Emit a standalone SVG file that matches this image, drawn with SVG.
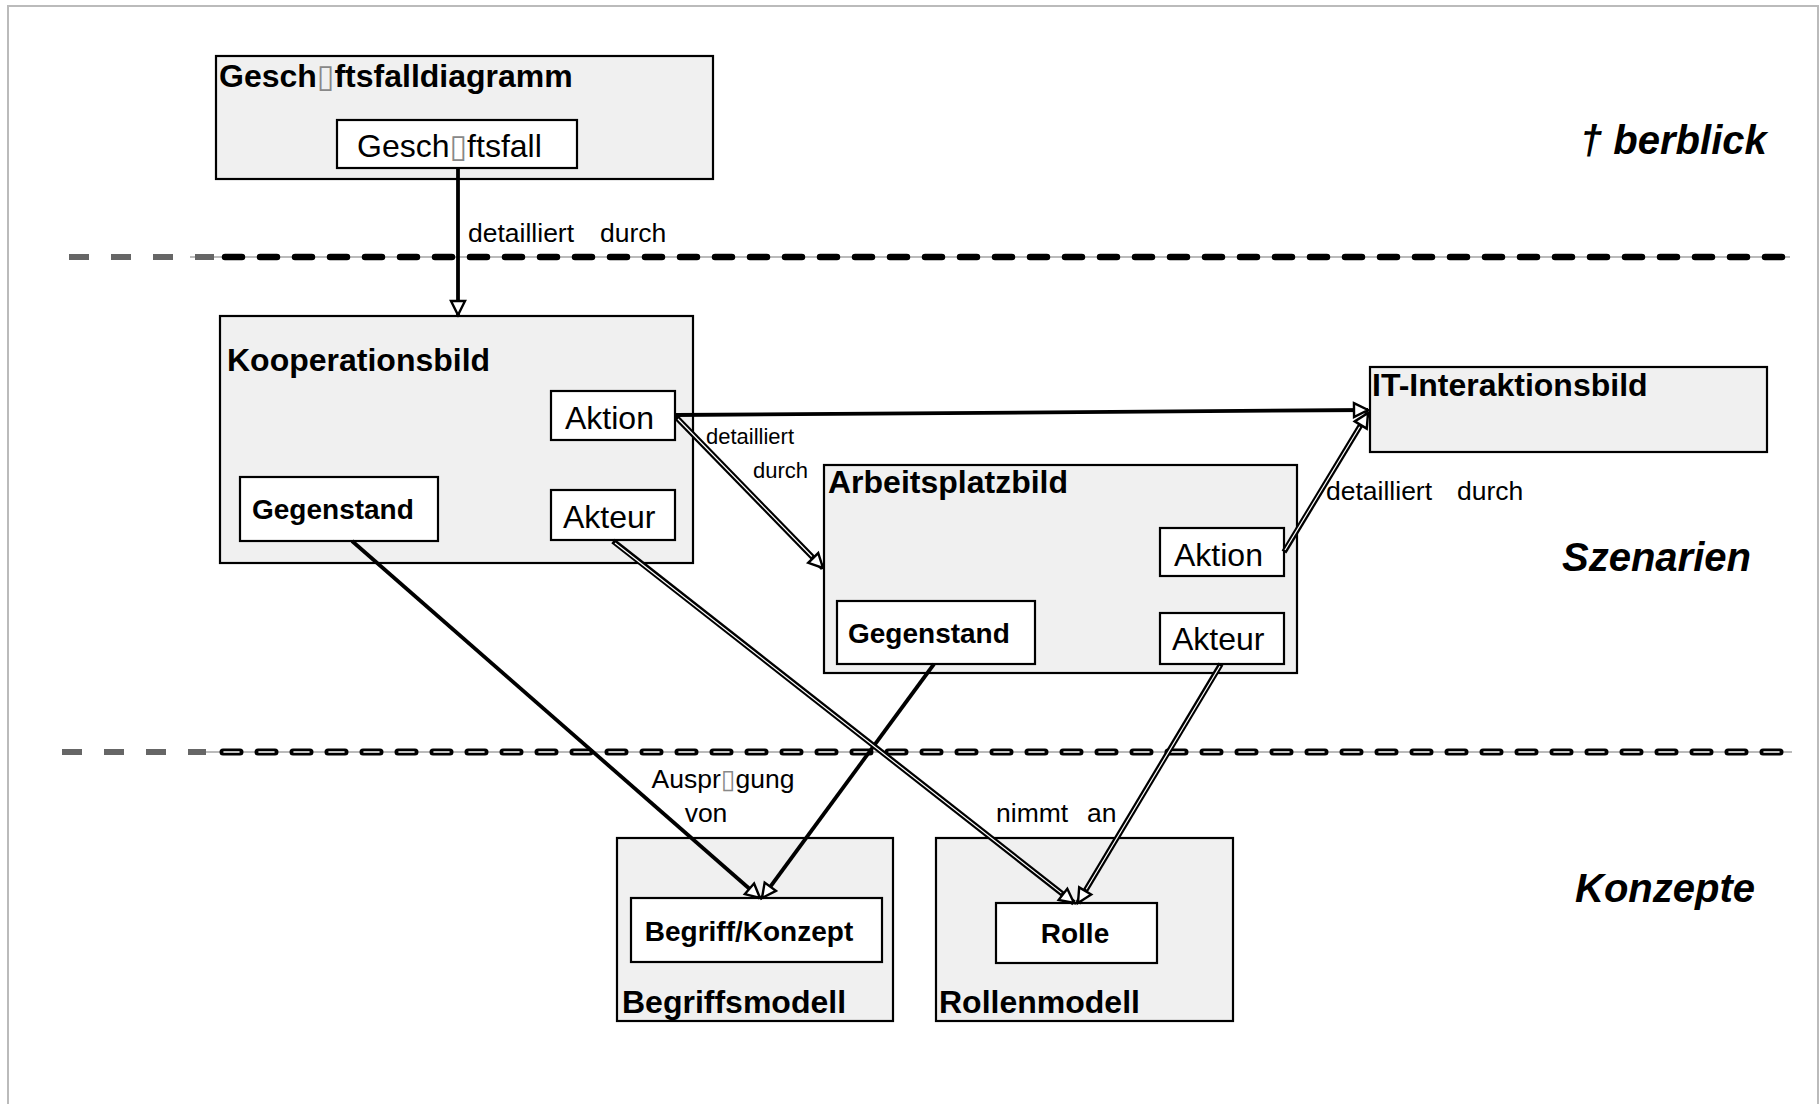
<svg xmlns="http://www.w3.org/2000/svg" width="1820" height="1104" viewBox="0 0 1820 1104">
  <style>
    .frame { fill: #ffffff; stroke: #bbbbbb; stroke-width: 2; }
    .outer { fill: #f0f0f0; stroke: #000000; stroke-width: 2.2; }
    .inner { fill: #ffffff; stroke: #000000; stroke-width: 2.2; }
    text { font-family: "Liberation Sans", Arial, "DejaVu Sans", sans-serif; fill: #000000; }
    .title { font-size: 32px; font-weight: bold; }
    .lbl { font-size: 32px; }
    .lblb { font-size: 28px; font-weight: bold; }
    .edge { font-size: 26.5px; }
    .edge-s { font-size: 22px; }
    .layer { font-size: 40px; font-weight: bold; font-style: italic; }
    .tofu { fill: #888888; font-family: "DejaVu Sans", sans-serif; font-weight: normal; }
    .sep-base { stroke: #bbbbbb; stroke-width: 2; fill: none; }
    .sep-grey { stroke: #666666; stroke-width: 6; stroke-dasharray: 20 22; fill: none; }
    .sep-solid { stroke: #000000; stroke-width: 6.5; stroke-linecap: round; stroke-dasharray: 17 18; fill: none; }
    .sep-hollow { stroke: #000000; stroke-width: 7; stroke-linecap: round; stroke-dasharray: 17 18; fill: none; }
    .sep-hollow-in { stroke: #ffffff; stroke-width: 1.6; stroke-linecap: round; stroke-dasharray: 15 20; stroke-dashoffset: -1; fill: none; }
    .solid { stroke: #000000; stroke-width: 3.8; fill: none; }
    .dbl { stroke: #000000; stroke-width: 5.5; fill: none; }
    .dbl-in { stroke: #ffffff; stroke-width: 1.2; fill: none; }
  </style>
  <defs>
    <marker id="head" markerUnits="userSpaceOnUse" markerWidth="20" markerHeight="20" refX="16" refY="9" orient="auto" overflow="visible">
      <path d="M2,2 L16,9 L2,16 Z" fill="#ffffff" stroke="#000000" stroke-width="2.4" stroke-linejoin="miter"/>
    </marker>
  </defs>

  <!-- page frame -->
  <rect class="frame" x="8" y="6" width="1810" height="1120"/>

  <!-- layer separators -->
  <g id="separators">
    <line class="sep-base" x1="190" y1="257" x2="1790" y2="257"/>
    <line class="sep-grey" x1="69" y1="257" x2="214" y2="257"/>
    <line class="sep-solid" x1="225" y1="257" x2="1786" y2="257"/>
    <line class="sep-base" x1="190" y1="752" x2="1792" y2="752"/>
    <line class="sep-grey" x1="62" y1="752" x2="206" y2="752"/>
    <line class="sep-hollow" x1="223" y1="752" x2="1788" y2="752"/>
    <line class="sep-hollow-in" x1="223" y1="752" x2="1788" y2="752"/>
  </g>

  <!-- layer names -->
  <g id="layers">
    <text class="layer" x="1580" y="154">† berblick</text>
    <text class="layer" x="1562" y="571">Szenarien</text>
    <text class="layer" x="1575" y="902">Konzepte</text>
  </g>

  <!-- Geschaeftsfalldiagramm -->
  <g id="geschaeftsfalldiagramm">
    <rect class="outer" x="216" y="56" width="497" height="123"/>
    <text class="title" x="219" y="87">Gesch<tspan class="tofu">▯</tspan>ftsfalldiagramm</text>
    <g id="geschaeftsfall">
      <rect class="inner" x="337" y="120" width="240" height="48"/>
      <text class="lbl" x="357" y="157">Gesch<tspan class="tofu">▯</tspan>ftsfall</text>
    </g>
  </g>

  <!-- Kooperationsbild -->
  <g id="kooperationsbild">
    <rect class="outer" x="220" y="316" width="473" height="247"/>
    <text class="title" x="227" y="371">Kooperationsbild</text>
    <g id="koop-aktion">
      <rect class="inner" x="551" y="391" width="124" height="49"/>
      <text class="lbl" x="565" y="429">Aktion</text>
    </g>
    <g id="koop-akteur">
      <rect class="inner" x="551" y="490" width="124" height="50"/>
      <text class="lbl" x="563" y="528">Akteur</text>
    </g>
    <g id="koop-gegenstand">
      <rect class="inner" x="240" y="477" width="198" height="64"/>
      <text class="lblb" x="252" y="519">Gegenstand</text>
    </g>
  </g>

  <!-- IT-Interaktionsbild -->
  <g id="it-interaktionsbild">
    <rect class="outer" x="1370" y="367" width="397" height="85"/>
    <text class="title" x="1372" y="396">IT-Interaktionsbild</text>
  </g>

  <!-- Arbeitsplatzbild -->
  <g id="arbeitsplatzbild">
    <rect class="outer" x="824" y="465" width="473" height="208"/>
    <text class="title" x="828" y="493">Arbeitsplatzbild</text>
    <g id="ap-aktion">
      <rect class="inner" x="1160" y="528" width="124" height="48"/>
      <text class="lbl" x="1174" y="566">Aktion</text>
    </g>
    <g id="ap-akteur">
      <rect class="inner" x="1160" y="613" width="124" height="51"/>
      <text class="lbl" x="1172" y="650">Akteur</text>
    </g>
    <g id="ap-gegenstand">
      <rect class="inner" x="837" y="601" width="198" height="63"/>
      <text class="lblb" x="848" y="643">Gegenstand</text>
    </g>
  </g>

  <!-- Begriffsmodell -->
  <g id="begriffsmodell">
    <rect class="outer" x="617" y="838" width="276" height="183"/>
    <text class="title" x="622" y="1013">Begriffsmodell</text>
    <g id="begriff-konzept">
      <rect class="inner" x="631" y="898" width="251" height="64"/>
      <text class="lblb" x="749" y="941" text-anchor="middle">Begriff/Konzept</text>
    </g>
  </g>

  <!-- Rollenmodell -->
  <g id="rollenmodell">
    <rect class="outer" x="936" y="838" width="297" height="183"/>
    <text class="title" x="939" y="1013">Rollenmodell</text>
    <g id="rolle">
      <rect class="inner" x="996" y="903" width="161" height="60"/>
      <text class="lblb" x="1075" y="943" text-anchor="middle">Rolle</text>
    </g>
  </g>

  <!-- connectors -->
  <g id="connectors">
    <line class="solid" x1="458" y1="168" x2="458" y2="315" marker-end="url(#head)"/>
    <line class="solid" x1="676" y1="415" x2="1368" y2="410" stroke-width="4" marker-end="url(#head)"/>

    <line class="dbl" x1="676" y1="417" x2="823" y2="568" marker-end="url(#head)"/>
    <line class="dbl-in" x1="678" y1="419" x2="811.8" y2="556.5"/>

    <line class="dbl" x1="1284" y1="552" x2="1368" y2="413" marker-end="url(#head)"/>
    <line class="dbl-in" x1="1285" y1="550" x2="1359.7" y2="426.7"/>

    <line class="solid" x1="352" y1="541" x2="760" y2="898" marker-end="url(#head)"/>
    <line class="solid" x1="934" y1="664" x2="762" y2="898" marker-end="url(#head)"/>

    <line class="dbl" x1="613" y1="541" x2="1074" y2="903" marker-end="url(#head)"/>
    <line class="dbl-in" x1="615" y1="543" x2="1061.4" y2="893.1"/>

    <line class="dbl" x1="1221" y1="664" x2="1078" y2="903" marker-end="url(#head)"/>
    <line class="dbl-in" x1="1220" y1="666" x2="1086.2" y2="889.3"/>
  </g>

  <!-- connector labels -->
  <g id="connector-labels">
    <text class="edge" x="468" y="242">detailliert<tspan x="600">durch</tspan></text>
    <text class="edge-s" x="706" y="444">detailliert</text>
    <text class="edge-s" x="753" y="478">durch</text>
    <text class="edge" x="1326" y="500">detailliert<tspan x="1457">durch</tspan></text>
    <text class="edge" x="723" y="788" text-anchor="middle" font-size="27">Auspr<tspan class="tofu">▯</tspan>gung</text>
    <text class="edge" x="706" y="822" text-anchor="middle" font-size="27">von</text>
    <text class="edge" x="996" y="822" font-size="27">nimmt<tspan x="1087">an</tspan></text>
  </g>
</svg>
